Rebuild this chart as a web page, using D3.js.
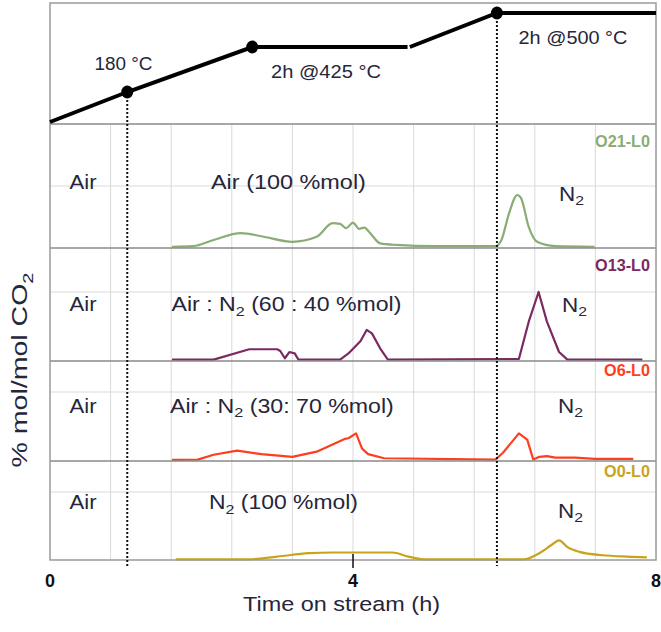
<!DOCTYPE html>
<html>
<head>
<meta charset="utf-8">
<script src="https://cdn.jsdelivr.net/npm/d3@7"></script>
<style>
  body { margin: 0; background: #fff; }
  svg { display: block; font-family: "Liberation Sans", Arial, sans-serif; }
  text { white-space: pre; }
</style>
</head>
<body>
<svg id="chart" width="661" height="632"></svg>
<script>
// temperature programme shown in the top strip
const rampTime = [0, 1.02, 2.67, 4.72];
const rampTemp = [25, 180, 425, 425];
const holdTime = [4.75, 5.9, 8];
const holdTemp = [425, 500, 500];
const markTime = [1.02, 2.67, 5.9];
const markTemp = [180, 425, 500];
const switchTime = [1.02, 5.9];
const stepLabels = ["180 °C", "2h @425 °C", "2h @500 °C"];

const xTicks = [0, 4, 8];
const gridTime = [0.8, 1.6, 2.4, 3.2, 4.0, 4.8, 5.6, 6.4, 7.2];

const sampleNames = ["O21-L0", "O13-L0", "O6-L0", "O0-L0"];
const sampleColors = ["#8aac76", "#7a2a5f", "#ff3d1f", "#c9a41a"];
const feedLabels = [
  ["Air (100 %mol)"],
  ["Air : N", { sub: "2" }, " (60 : 40 %mol)"],
  ["Air : N", { sub: "2" }, " (30: 70 %mol)"],
  ["N", { sub: "2" }, " (100 %mol)"]
];

// CO2 signal, arbitrary units (1 = light gridline of each strip)
const o21Time = [1.61, 1.89, 2.16, 2.52, 2.79, 3.2, 3.52, 3.73, 3.83, 3.91, 4.0, 4.08, 4.15, 4.22, 4.36, 4.57, 5.09, 5.88, 5.96, 6.06, 6.17, 6.22, 6.32, 6.43, 6.67, 7.19];
const o21Val = [0.02, 0.03, 0.13, 0.24, 0.19, 0.1, 0.18, 0.4, 0.39, 0.32, 0.41, 0.31, 0.33, 0.25, 0.075, 0.05, 0.03, 0.03, 0.13, 0.56, 0.855, 0.8, 0.34, 0.1, 0.03, 0.02];

const o13Time = [1.61, 2.16, 2.63, 3.0, 3.04, 3.1, 3.16, 3.23, 3.28, 3.83, 3.94, 4.1, 4.18, 4.25, 4.36, 4.46, 6.19, 6.32, 6.45, 6.56, 6.72, 6.83, 7.82];
const o13Val = [0.02, 0.02, 0.17, 0.17, 0.145, 0.04, 0.13, 0.11, 0.02, 0.02, 0.11, 0.29, 0.45, 0.4, 0.18, 0.02, 0.03, 0.57, 1.0, 0.57, 0.13, 0.02, 0.02];

const o6Time = [1.61, 1.95, 2.16, 2.47, 2.79, 3.2, 3.52, 3.73, 3.89, 3.94, 4.04, 4.12, 4.2, 4.41, 5.88, 5.98, 6.19, 6.3, 6.38, 6.46, 6.56, 6.67, 6.93, 7.19, 7.7];
const o6Val = [0.015, 0.02, 0.09, 0.15, 0.1, 0.06, 0.135, 0.24, 0.32, 0.33, 0.4, 0.18, 0.1, 0.04, 0.02, 0.12, 0.4, 0.31, 0.02, 0.06, 0.07, 0.05, 0.05, 0.03, 0.03];

const o0Time = [1.66, 2.63, 3.0, 3.42, 3.73, 4.52, 4.73, 4.94, 6.25, 6.46, 6.62, 6.72, 6.83, 6.99, 7.3, 7.62, 7.88];
const o0Val = [0.01, 0.01, 0.05, 0.1, 0.11, 0.11, 0.05, 0.01, 0.01, 0.1, 0.22, 0.29, 0.19, 0.12, 0.07, 0.05, 0.04];

const seriesTime = [o21Time, o13Time, o6Time, o0Time];
const seriesVal = [o21Val, o13Val, o6Val, o0Val];

// layout
const svg = d3.select("#chart");
const ink = "#26263a";
const plotLeft = 50, plotRight = 656, plotTop = 3;
const panels = [
  { top: 124, grid: 186, bottom: 248 },
  { top: 248, grid: 292, bottom: 361 },
  { top: 361, grid: 392, bottom: 461 },
  { top: 461, grid: 492, bottom: 560 }
];
const plotBottom = panels[3].bottom;

const x = d3.scaleLinear().domain([0, 8]).range([plotLeft, plotRight]);
const yTemp = d3.scaleLinear().domain([25, 180, 425, 500]).range([122, 92, 47, 13]);

function addText(parent, px, py, parts, opt) {
  const g = parent.append("g")
    .attr("transform", `translate(${px},${py})` + (opt.rotate ? ` rotate(${opt.rotate})` : ""));
  const t = g.append("text")
    .attr("text-anchor", opt.anchor || "start")
    .attr("font-size", opt.size)
    .attr("font-weight", opt.weight || "normal")
    .attr("fill", opt.fill || ink);
  const shift = opt.size * 0.25;
  let down = false;
  parts.forEach(p => {
    const span = t.append("tspan");
    if (typeof p === "string") {
      span.text(p);
      if (down) { span.attr("dy", -shift); down = false; }
    } else {
      span.text(p.sub).attr("font-size", opt.size * 0.7).attr("dy", shift);
      down = true;
    }
  });
  if (opt.width) {
    const len = t.node().getComputedTextLength();
    t.attr("transform", `scale(${opt.width / len},1)`);
  }
  return g;
}

// light gridlines
svg.append("g")
  .selectAll("line")
  .data(gridTime)
  .join("line")
  .attr("x1", d => x(d)).attr("x2", d => x(d))
  .attr("y1", panels[0].top).attr("y2", plotBottom)
  .attr("stroke", "#d9d9d9").attr("stroke-width", 1);

panels.forEach((p, i) => {
  const y = d3.scaleLinear().domain([0, 1]).range([p.bottom, p.grid]);
  svg.append("line")
    .attr("x1", plotLeft).attr("x2", plotRight)
    .attr("y1", y(1)).attr("y2", y(1))
    .attr("stroke", "#d9d9d9").attr("stroke-width", 1);

  const pts = seriesTime[i].map((t, k) => [t, seriesVal[i][k]]);
  const line = d3.line()
    .x(d => x(d[0]))
    .y(d => y(d[1]))
    .curve(i === 0 || i === 3 ? d3.curveMonotoneX : d3.curveLinear);
  svg.append("path")
    .datum(pts)
    .attr("d", line)
    .attr("fill", "none")
    .attr("stroke", sampleColors[i])
    .attr("stroke-width", 2.2)
    .attr("stroke-linejoin", "round");
});

// panel separators and frame
panels.forEach(p => {
  svg.append("line")
    .attr("x1", plotLeft).attr("x2", plotRight)
    .attr("y1", p.top).attr("y2", p.top)
    .attr("stroke", "#8a8a8a").attr("stroke-width", 1.5);
});
svg.append("rect")
  .attr("x", plotLeft).attr("y", plotTop)
  .attr("width", plotRight - plotLeft).attr("height", plotBottom - plotTop)
  .attr("fill", "none").attr("stroke", "#9a9a9a").attr("stroke-width", 1.5);

// x axis tick and labels
svg.append("line")
  .attr("x1", x(4)).attr("x2", x(4))
  .attr("y1", plotBottom - 6).attr("y2", plotBottom + 8)
  .attr("stroke", "#111").attr("stroke-width", 1.5);
xTicks.forEach(t => {
  addText(svg, x(t), 587, [String(t)], { size: 18, weight: "bold", anchor: "middle", fill: "#111" });
});

// gas switch markers
svg.append("g")
  .selectAll("line")
  .data(switchTime)
  .join("line")
  .attr("x1", d => x(d)).attr("x2", d => x(d))
  .attr("y1", d => yTemp(markTemp[markTime.indexOf(d)]))
  .attr("y2", plotBottom + 6)
  .attr("stroke", "#111").attr("stroke-width", 2)
  .attr("stroke-dasharray", "2,2");

// temperature programme
const tLine = d3.line().x(d => x(d[0])).y(d => yTemp(d[1]));
[[rampTime, rampTemp], [holdTime, holdTemp]].forEach(([ts, vs]) => {
  svg.append("path")
    .datum(ts.map((t, k) => [t, vs[k]]))
    .attr("d", tLine)
    .attr("fill", "none")
    .attr("stroke", "#000")
    .attr("stroke-width", 4);
});
svg.append("g")
  .selectAll("ellipse")
  .data(markTime)
  .join("ellipse")
  .attr("cx", d => x(d))
  .attr("cy", (d, i) => yTemp(markTemp[i]))
  .attr("rx", 6).attr("ry", 6.5)
  .attr("fill", "#000");

addText(svg, 123.5, 69.5, [stepLabels[0]], { size: 18.5, anchor: "middle", width: 58 });
addText(svg, 326, 77.5, [stepLabels[1]], { size: 18.5, anchor: "middle", width: 110 });
addText(svg, 573, 43.5, [stepLabels[2]], { size: 18.5, anchor: "middle", width: 109 });

// strip labels
const airBase = [189, 311, 412.5, 509];
const feedLeft = [211, 171.5, 170, 209];
const feedWidth = [155, 230, 224, 149];
const n2Left = [559, 562, 558, 558];
const n2Base = [200.5, 311.5, 412.5, 517.5];
const nameBase = [146.5, 270.5, 376, 477];

panels.forEach((p, i) => {
  addText(svg, 69.5, airBase[i], ["Air"], { size: 19.5, width: 27 });
  addText(svg, feedLeft[i], airBase[i], feedLabels[i], { size: 19.5, width: feedWidth[i] });
  addText(svg, n2Left[i], n2Base[i], ["N", { sub: "2" }], { size: 19.5, width: 25 });
  addText(svg, 650, nameBase[i], [sampleNames[i]], { size: 17, weight: "bold", anchor: "end", fill: sampleColors[i], width: i < 2 ? 55 : 46 });
});

// axis titles
addText(svg, 341.5, 611, ["Time on stream (h)"], { size: 20.5, anchor: "middle", width: 197 });
addText(svg, 27, 370, ["% mol/mol CO", { sub: "2" }], { size: 22, anchor: "middle", rotate: -90, width: 195 });
</script>
</body>
</html>
